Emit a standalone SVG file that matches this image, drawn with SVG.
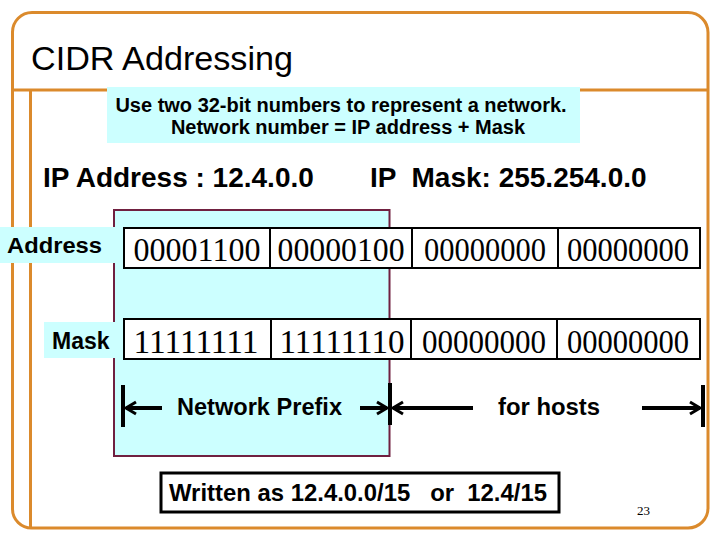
<svg xmlns="http://www.w3.org/2000/svg" width="720" height="540" viewBox="0 0 720 540">
<style>
.frame{fill:none;stroke:#DB8A2C;stroke-width:3}
.cyan{fill:#CCFFFF}
.sans{font-family:"Liberation Sans",Arial,sans-serif;font-weight:bold;fill:#000}
.bin{font-family:"Liberation Serif","Times New Roman",serif;font-size:34px;fill:#000;text-anchor:middle}
.cell{fill:#fff;stroke:#000;stroke-width:2}
.tick{fill:#000}
.arr{stroke:#000;stroke-width:4;fill:none;marker-end:url(#head)}
</style>
<defs>
<marker id="head" markerUnits="userSpaceOnUse" markerWidth="16" markerHeight="16" viewBox="0 0 16 16" refX="13" refY="8" orient="auto">
<path d="M3,2 L13,8 L3,14" fill="none" stroke="#000" stroke-width="3"/>
</marker>
</defs>
<rect width="720" height="540" fill="#fff"/>
<g id="frame">
<path class="frame" d="M32,12.5 H688 A20,20 0 0 1 708,32.5 V508 A20,20 0 0 1 688,528 H32 A19,19 0 0 1 12.5,509 V32 A19.5,19.5 0 0 1 32,12.5 Z"/>
<line class="frame" x1="12.5" y1="90" x2="708" y2="90"/>
<line class="frame" x1="30.5" y1="90" x2="30.5" y2="528"/>
</g>
<g id="title">
<text x="31" y="70" font-family="Liberation Sans, Arial, sans-serif" font-size="33" textLength="262" lengthAdjust="spacingAndGlyphs">CIDR Addressing</text>
</g>
<g id="subtitle">
<rect class="cyan" x="107" y="87" width="473" height="56"/>
<text class="sans" x="341" y="112" font-size="20" text-anchor="middle">Use two 32-bit numbers to represent a network.</text>
<text class="sans" x="348" y="134" font-size="20" text-anchor="middle">Network number = IP address + Mask</text>
</g>
<g id="ip-line">
<text class="sans" x="43" y="187" font-size="28" xml:space="preserve">IP Address : 12.4.0.0</text>
<text class="sans" x="370" y="187" font-size="28" xml:space="preserve">IP  Mask: 255.254.0.0</text>
</g>
<g id="prefix-region">
<rect class="cyan" x="114" y="210" width="275.5" height="246" stroke="#702040" stroke-width="2"/>
</g>
<g id="address-label">
<rect class="cyan" x="0" y="227" width="117" height="36"/>
<text class="sans" x="7" y="253" font-size="22.5" textLength="95" lengthAdjust="spacingAndGlyphs">Address</text>
</g>
<g id="mask-label">
<rect class="cyan" x="44" y="322" width="73" height="36"/>
<text class="sans" x="52" y="349" font-size="23">Mask</text>
</g>
<g id="address-row">
<rect class="cell" x="124" y="228" width="146" height="40"/>
<rect class="cell" x="270" y="228" width="142" height="40"/>
<rect class="cell" x="412" y="228" width="146" height="40"/>
<rect class="cell" x="558" y="228" width="142" height="40"/>
<text class="bin" x="197" y="261" textLength="127" lengthAdjust="spacingAndGlyphs">00001100</text>
<text class="bin" x="341" y="261" textLength="127" lengthAdjust="spacingAndGlyphs">00000100</text>
<text class="bin" x="485" y="261" textLength="122" lengthAdjust="spacingAndGlyphs">00000000</text>
<text class="bin" x="628" y="261" textLength="122" lengthAdjust="spacingAndGlyphs">00000000</text>
</g>
<g id="mask-row">
<rect class="cell" x="124" y="319" width="147" height="40"/>
<rect class="cell" x="271" y="319" width="140" height="40"/>
<rect class="cell" x="411" y="319" width="146" height="40"/>
<rect class="cell" x="557" y="319" width="143" height="40"/>
<text class="bin" x="196" y="353" textLength="125" lengthAdjust="spacingAndGlyphs">11111111</text>
<text class="bin" x="342" y="353" textLength="125" lengthAdjust="spacingAndGlyphs">11111110</text>
<text class="bin" x="484" y="353" textLength="124" lengthAdjust="spacingAndGlyphs">00000000</text>
<text class="bin" x="628" y="353" textLength="122" lengthAdjust="spacingAndGlyphs">00000000</text>
</g>
<g id="ticks">
<rect class="tick" x="121" y="385" width="4" height="42"/>
<rect class="tick" x="388" y="383" width="4" height="42"/>
<rect class="tick" x="701" y="385" width="4" height="42"/>
</g>
<g id="connectors">
<line class="arr" x1="162" y1="408" x2="126" y2="408"/>
<line class="arr" x1="360" y1="408" x2="387" y2="408"/>
<line class="arr" x1="473" y1="408" x2="393" y2="408"/>
<line class="arr" x1="642" y1="408" x2="700" y2="408"/>
</g>
<g id="labels">
<text class="sans" x="177" y="415" font-size="23" textLength="165" lengthAdjust="spacingAndGlyphs">Network Prefix</text>
<text class="sans" x="498" y="415" font-size="23" textLength="102" lengthAdjust="spacingAndGlyphs">for hosts</text>
</g>
<g id="written-box">
<rect x="161" y="473" width="398" height="39" fill="#fff" stroke="#000" stroke-width="3"/>
<text class="sans" x="169" y="501" font-size="24" xml:space="preserve" textLength="378" lengthAdjust="spacingAndGlyphs">Written as 12.4.0.0/15   or  12.4/15</text>
</g>
<g id="page-number">
<text x="637" y="515" font-family="Liberation Serif, serif" font-size="13">23</text>
</g>
</svg>
